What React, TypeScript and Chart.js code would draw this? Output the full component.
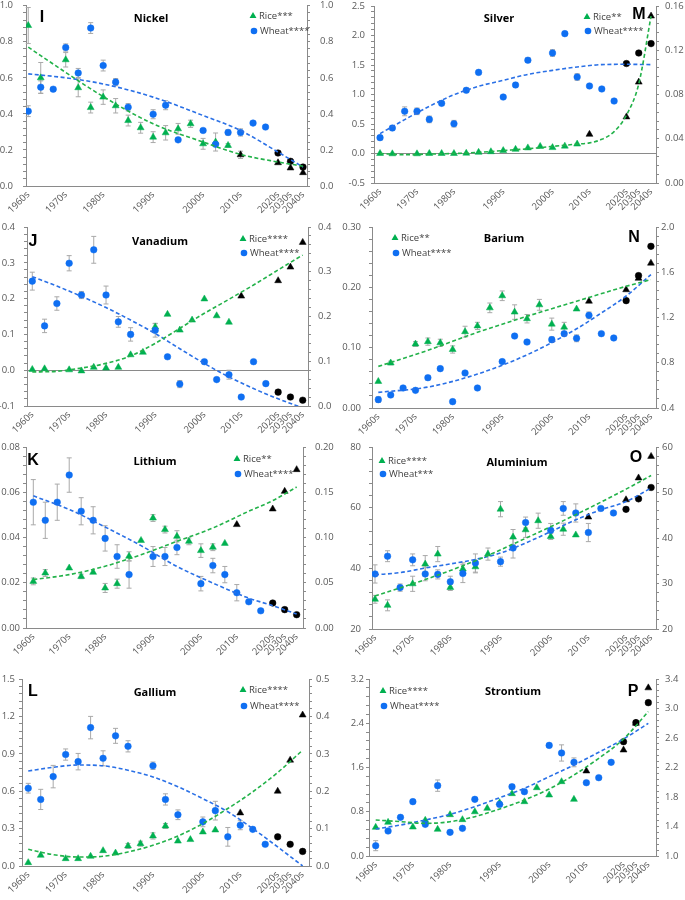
import React, { useEffect, useRef } from 'react';
import { Chart, registerables } from 'chart.js';

Chart.register(...registerables);

const FONT = '"Open Sans", "Noto Sans", sans-serif';
const GREEN = '#00b050';
const BLUE = '#0f6ff2';
const GREEN_LINE = '#23b24a';
const BLUE_LINE = '#2a70e6';
const BLACK = '#000000';
const AXIS = '#8a8a8a';
const TICK_TEXT = '#595959';
const ERR = '#a9a9a9';
const EXTRA = 10;

// ---------- shared x categories ----------
const xLabels = ['1960s', '', '', '1970s', '', '', '1980s', '', '', '', '1990s', '', '', '', '2000s', '', '', '2010s', '', '', '2020s', '2030s', '2040s'];
const labeledIdx = [0, 3, 6, 10, 14, 17, 20, 21, 22];
const riceProjected = [17, 20, 21, 22];
const wheatProjected = [20, 21, 22];

// ---------- Nickel ----------
const nickelRice = [0.89, 0.60, null, 0.70, 0.545, 0.435, 0.493, 0.445, 0.363, 0.323, 0.271, 0.295, 0.317, 0.345, 0.234, 0.244, 0.225, 0.173, null, null, 0.129, 0.100, 0.074];
const nickelRiceErr = [0.10, 0.085, 0, 0.04, 0.05, 0.03, 0.04, 0.04, 0.03, 0.03, 0.03, 0.04, 0.03, 0.02, 0.03, 0.05, 0.01, 0.02, 0, 0, 0, 0, 0];
const nickelWheat = [0.415, 0.548, 0.537, 0.768, 0.627, 0.876, 0.668, 0.576, 0.437, null, 0.398, 0.448, 0.256, null, 0.308, 0.231, 0.297, 0.297, 0.349, 0.327, 0.183, 0.137, 0.105];
const nickelWheatErr = [0.03, 0.035, 0.01, 0.02, 0.025, 0.03, 0.03, 0.02, 0.02, 0, 0.025, 0.025, 0, 0, 0.01, 0.01, 0.015, 0.02, 0, 0, 0, 0, 0];
const nickelRiceTrend = [[0, 0.77], [3, 0.63], [6, 0.496], [10, 0.345], [14, 0.244], [17, 0.175], [20, 0.133], [22, 0.11]];
const nickelWheatTrend = [[0, 0.622], [3, 0.60], [6, 0.566], [10, 0.493], [14, 0.391], [17, 0.308], [20, 0.188], [22, 0.105]];

// ---------- Silver ----------
const silverRice = [0.0, -0.005, null, -0.005, 0.0, 0.0, 0.0, 0.005, 0.02, 0.03, 0.05, 0.07, 0.095, 0.12, 0.10, 0.125, 0.16, 0.325, null, null, 0.62, 1.21, 2.33];
const silverRiceErr = [0, 0, 0, 0, 0, 0, 0, 0, 0, 0, 0, 0, 0, 0, 0, 0, 0, 0, 0, 0, 0, 0, 0];
const silverWheat = [0.041, 0.0497, 0.0648, 0.0648, 0.0575, 0.072, 0.0536, 0.0838, 0.100, null, 0.0777, 0.0886, 0.111, null, 0.1175, 0.135, 0.0958, 0.0877, 0.085, 0.0741, 0.108, 0.1175, 0.126];
const silverWheatErr = [0.002, 0.002, 0.004, 0.003, 0.003, 0.002, 0.003, 0.002, 0, 0, 0, 0.002, 0.002, 0, 0.003, 0, 0.003, 0, 0, 0, 0, 0, 0];
const silverRiceTrend = [[0, 0.0], [2, -0.02], [4, -0.01], [6, 0.0], [8, 0.02], [10, 0.05], [12, 0.08], [14, 0.12], [16, 0.16], [17, 0.18], [18, 0.24], [19, 0.37], [20, 0.65], [21, 1.18], [22, 2.33]];
const silverWheatTrend = [[0, 0.0446], [2, 0.0573], [4, 0.0693], [6, 0.0798], [8, 0.0874], [10, 0.0928], [12, 0.0982], [14, 0.1018], [16, 0.1049], [18, 0.107], [20, 0.1073], [22, 0.107]];

// ---------- Vanadium ----------
const vanadiumRice = [0.002, 0.004, null, 0.001, -0.002, 0.008, 0.006, 0.008, 0.043, 0.05, 0.121, 0.156, 0.112, 0.14, 0.199, 0.152, 0.134, 0.207, null, null, 0.25, 0.288, 0.357];
const vanadiumRiceErr = [0, 0, 0, 0, 0, 0, 0, 0, 0, 0, 0.01, 0, 0, 0, 0, 0, 0, 0, 0, 0, 0, 0, 0];
const vanadiumWheat = [0.279, 0.179, 0.229, 0.319, 0.248, 0.349, 0.248, 0.188, 0.16, null, 0.169, 0.11, 0.049, null, 0.099, 0.059, 0.07, 0.02, 0.099, 0.05, 0.031, 0.02, 0.013];
const vanadiumWheatErr = [0.02, 0.015, 0.015, 0.017, 0.008, 0.03, 0.02, 0.012, 0.015, 0, 0.015, 0, 0.008, 0, 0.005, 0, 0.01, 0, 0, 0, 0, 0, 0];
const vanadiumRiceTrend = [[0, -0.005], [2, -0.003], [4, 0.006], [6, 0.019], [8, 0.04], [10, 0.075], [12, 0.117], [14, 0.159], [16, 0.198], [18, 0.238], [20, 0.28], [22, 0.322]];
const vanadiumWheatTrend = [[0, 0.289], [2, 0.268], [4, 0.245], [6, 0.22], [8, 0.192], [10, 0.162], [12, 0.128], [14, 0.095], [16, 0.065], [18, 0.039], [20, 0.016], [22, -0.004]];

// ---------- Barium ----------
const bariumRice = [0.044, 0.0746, null, 0.106, 0.11, 0.108, 0.097, 0.1265, 0.136, 0.166, 0.186, 0.159, 0.148, 0.171, 0.139, 0.134, 0.164, 0.177, null, null, 0.196, 0.215, 0.24];
const bariumRiceErr = [0, 0.003, 0, 0.004, 0.006, 0.006, 0.006, 0.009, 0.006, 0.008, 0.008, 0.012, 0.007, 0.009, 0.01, 0.008, 0, 0, 0, 0, 0, 0, 0];
const bariumWheat = [0.474, 0.515, 0.577, 0.556, 0.668, 0.748, 0.456, 0.709, 0.577, null, 0.81, 1.036, 0.983, null, 1.004, 1.057, 1.016, 1.219, 1.057, 1.019, 1.349, 1.57, 1.829];
const bariumWheatErr = [0.025, 0, 0, 0, 0.02, 0, 0, 0, 0, 0, 0, 0, 0, 0, 0.025, 0.02, 0.03, 0.03, 0, 0, 0, 0, 0];
const bariumRiceTrend = [[0, 0.069], [4, 0.0956], [8, 0.1254], [12, 0.152], [16, 0.177], [20, 0.2017], [22, 0.2127]];
const bariumWheatTrend = [[0, 0.538], [4, 0.585], [8, 0.70], [12, 0.87], [16, 1.10], [18, 1.24], [20, 1.39], [22, 1.579]];

// ---------- Lithium ----------
const lithiumRice = [0.0206, 0.0243, null, 0.0265, 0.0228, 0.0246, 0.0177, 0.0196, 0.0317, 0.0387, 0.0486, 0.0435, 0.0405, 0.0383, 0.0342, 0.0357, 0.0374, 0.0457, null, null, 0.0526, 0.0604, 0.070];
const lithiumRiceErr = [0.0015, 0.0015, 0, 0, 0.001, 0, 0.002, 0.002, 0.002, 0, 0.0015, 0.0015, 0.0025, 0.0015, 0.003, 0.0015, 0, 0, 0, 0, 0, 0, 0];
const lithiumWheat = [0.139, 0.119, 0.139, 0.169, 0.129, 0.119, 0.099, 0.079, 0.059, null, 0.079, 0.079, 0.089, null, 0.049, 0.069, 0.059, 0.039, 0.029, 0.019, 0.0276, 0.0203, 0.0147];
const lithiumWheatErr = [0.025, 0.02, 0.02, 0.019, 0.015, 0.015, 0.014, 0.013, 0.015, 0, 0.011, 0.01, 0.008, 0, 0.008, 0.008, 0.009, 0.009, 0, 0, 0, 0, 0];
const lithiumRiceTrend = [[0, 0.0214], [3, 0.0236], [6, 0.0273], [9, 0.0324], [12, 0.0383], [15, 0.0442], [18, 0.0516], [20, 0.0563], [22, 0.0623]];
const lithiumWheatTrend = [[0, 0.146], [3, 0.131], [6, 0.1116], [9, 0.091], [12, 0.068], [15, 0.0497], [18, 0.033], [20, 0.0247], [22, 0.0155]];

// ---------- Aluminium ----------
const aluminiumRice = [29.8, 27.8, null, 34.9, 41.4, 44.7, 33.7, 39.8, 40.5, 44.7, 59.5, 50.3, 52.7, 55.7, 50.5, 52.9, 51.0, 56.9, null, null, 62.6, 69.8, 76.9];
const aluminiumRiceErr = [1.3, 1.8, 0, 2.5, 2.8, 2.5, 1, 2, 2, 2, 2.5, 2.5, 2.5, 2.5, 1, 2, 0, 0, 0, 0, 0, 0, 0];
const aluminiumWheat = [32.1, 36.0, 29.1, 35.2, 32.1, 32.0, 30.4, 32.2, 34.5, null, 34.8, 37.8, 43.4, null, 41.7, 46.5, 45.5, 41.2, 46.5, 45.5, 46.3, 48.6, 51.1];
const aluminiumWheatErr = [2, 1.2, 0.8, 1.3, 1.5, 1, 1.2, 2, 2, 0, 1, 2.2, 1.2, 0, 1.5, 1.5, 2, 2, 0, 0, 0, 0, 0];
const aluminiumRiceTrend = [[0, 30.9], [4, 36.3], [8, 42.5], [12, 49.9], [16, 57.7], [20, 66.1], [22, 70.6]];
const aluminiumWheatTrend = [[0, 31.9], [2, 32.4], [4, 33.4], [6, 34.3], [8, 35.3], [10, 36.7], [12, 38.9], [14, 41.4], [16, 44.0], [18, 46.2], [20, 48.0], [22, 51.0]];

// ---------- Gallium ----------
const galliumRice = [0.027, 0.086, null, 0.059, 0.059, 0.078, 0.123, 0.104, 0.161, 0.179, 0.241, 0.321, 0.20, 0.212, 0.273, 0.289, null, 0.426, null, null, 0.60, 0.849, 1.211];
const galliumRiceErr = [0, 0, 0, 0, 0, 0, 0, 0, 0.02, 0.02, 0.025, 0.02, 0, 0, 0, 0, 0, 0, 0, 0, 0, 0, 0];
const galliumWheat = [0.208, 0.178, 0.239, 0.298, 0.279, 0.37, 0.288, 0.348, 0.32, null, 0.268, 0.178, 0.137, null, 0.118, 0.148, 0.078, 0.109, 0.098, 0.058, 0.078, 0.058, 0.039];
const galliumWheatErr = [0.013, 0.027, 0.03, 0.015, 0.022, 0.03, 0.02, 0.02, 0.015, 0, 0.01, 0.015, 0.013, 0, 0.013, 0.025, 0.025, 0.012, 0, 0, 0, 0, 0];
const galliumRiceTrend = [[0, 0.134], [2, 0.091], [4, 0.072], [6, 0.078], [8, 0.1125], [10, 0.166], [12, 0.241], [14, 0.34], [16, 0.461], [18, 0.595], [20, 0.75], [22, 0.929]];
const galliumWheatTrend = [[0, 0.254], [2, 0.264], [4, 0.27], [6, 0.268], [8, 0.256], [10, 0.238], [12, 0.212], [14, 0.18], [16, 0.145], [18, 0.10], [20, 0.051], [22, 0.0]];

// ---------- Strontium ----------
const strontiumRice = [0.518, 0.609, null, 0.524, 0.645, 0.482, 0.747, 0.657, 0.80, 0.862, 0.964, 1.127, 0.982, 1.235, 1.103, 1.344, 1.024, 1.537, null, null, 1.916, 2.40, 3.04];
const strontiumRiceErr = [0, 0, 0, 0, 0, 0, 0, 0, 0, 0, 0, 0, 0, 0, 0, 0, 0, 0, 0, 0, 0, 0, 0];
const strontiumWheat = [1.14, 1.339, 1.524, 1.737, 1.429, 1.954, 1.321, 1.375, 1.768, null, 1.70, 1.94, 1.872, null, 2.50, 2.397, 2.27, 1.994, 2.062, 2.27, 2.55, 2.808, 3.079];
const strontiumWheatErr = [0.068, 0, 0, 0, 0, 0.077, 0, 0, 0, 0, 0, 0.03, 0, 0, 0, 0.11, 0.06, 0, 0, 0, 0, 0, 0];
const strontiumRiceTrend = [[0, 0.651], [2, 0.621], [4, 0.59], [6, 0.62], [8, 0.711], [10, 0.85], [12, 1.012], [14, 1.211], [16, 1.464], [18, 1.766], [20, 2.115], [22, 2.61]];
const strontiumWheatTrend = [[0, 1.366], [2, 1.42], [4, 1.488], [6, 1.565], [8, 1.669], [10, 1.791], [12, 1.918], [14, 2.076], [16, 2.234], [18, 2.406], [20, 2.586], [22, 2.799]];

type Axis = { min: number; max: number; major: number; minor: number; dec: number; pad: number };
type Panel = {
  name: string; letter: string; riceLabel: string; wheatLabel: string;
  ox: number; oy: number; w: number; h: number;
  plot: [number, number, number, number];
  xMin: number; xMax: number;
  yL: Axis; yR: Axis; zero: boolean;
  letterPos: [number, number]; titlePos: [number, number]; legendPos: [number, number, number];
  rice: (number | null)[]; riceErr: number[]; wheat: (number | null)[]; wheatErr: number[];
  riceTrend: number[][]; wheatTrend: number[][];
};

const panels: Panel[] = [
  {
    name: 'Nickel', letter: 'I', riceLabel: 'Rice***', wheatLabel: 'Wheat****',
    ox: 0, oy: 0, w: 340, h: 220, plot: [26, 5, 307, 186], xMin: -0.18, xMax: 22.32,
    yL: { min: 0, max: 1, major: 0.2, minor: 0.04, dec: 1, pad: 10 },
    yR: { min: 0, max: 1, major: 0.2, minor: 0.04, dec: 1, pad: 10 }, zero: false,
    letterPos: [42, 18], titlePos: [151, 19], legendPos: [253, 16, 15],
    rice: nickelRice, riceErr: nickelRiceErr, wheat: nickelWheat, wheatErr: nickelWheatErr,
    riceTrend: nickelRiceTrend, wheatTrend: nickelWheatTrend,
  },
  {
    name: 'Silver', letter: 'M', riceLabel: 'Rice**', wheatLabel: 'Wheat****',
    ox: 340, oy: 0, w: 345, h: 220, plot: [34, 6, 316, 183], xMin: -0.49, xMax: 22.4,
    yL: { min: -0.5, max: 2.5, major: 0.5, minor: 0.1, dec: 1, pad: 6 },
    yR: { min: 0, max: 0.16, major: 0.04, minor: 0.008, dec: 2, pad: 6 }, zero: true,
    letterPos: [299, 15], titlePos: [159, 19], legendPos: [247, 17, 14],
    rice: silverRice, riceErr: silverRiceErr, wheat: silverWheat, wheatErr: silverWheatErr,
    riceTrend: silverRiceTrend, wheatTrend: silverWheatTrend,
  },
  {
    name: 'Vanadium', letter: 'J', riceLabel: 'Rice****', wheatLabel: 'Wheat****',
    ox: 0, oy: 220, w: 340, h: 220, plot: [27, 7, 308, 186], xMin: -0.43, xMax: 22.43,
    yL: { min: -0.1, max: 0.4, major: 0.1, minor: 0.02, dec: 1, pad: 9 },
    yR: { min: 0, max: 0.4, major: 0.1, minor: 0.02, dec: 1, pad: 7 }, zero: true,
    letterPos: [33, 22], titlePos: [160, 22], legendPos: [243, 19, 14],
    rice: vanadiumRice, riceErr: vanadiumRiceErr, wheat: vanadiumWheat, wheatErr: vanadiumWheatErr,
    riceTrend: vanadiumRiceTrend, wheatTrend: vanadiumWheatTrend,
  },
  {
    name: 'Barium', letter: 'N', riceLabel: 'Rice**', wheatLabel: 'Wheat****',
    ox: 340, oy: 220, w: 345, h: 220, plot: [32, 7, 316, 188], xMin: -0.51, xMax: 22.41,
    yL: { min: 0, max: 0.3, major: 0.1, minor: 0.02, dec: 2, pad: 8 },
    yR: { min: 0.4, max: 2.0, major: 0.4, minor: 0.08, dec: 1, pad: 2 }, zero: false,
    letterPos: [294, 18], titlePos: [164, 19], legendPos: [55, 18, 15],
    rice: bariumRice, riceErr: bariumRiceErr, wheat: bariumWheat, wheatErr: bariumWheatErr,
    riceTrend: bariumRiceTrend, wheatTrend: bariumWheatTrend,
  },
  {
    name: 'Lithium', letter: 'K', riceLabel: 'Rice**', wheatLabel: 'Wheat****',
    ox: 0, oy: 440, w: 340, h: 225, plot: [26, 7, 303, 188], xMin: -0.61, xMax: 22.53,
    yL: { min: 0, max: 0.08, major: 0.02, minor: 0.004, dec: 2, pad: 3 },
    yR: { min: 0, max: 0.2, major: 0.05, minor: 0.01, dec: 2, pad: 9 }, zero: false,
    letterPos: [33, 21], titlePos: [155, 22], legendPos: [237, 19, 15],
    rice: lithiumRice, riceErr: lithiumRiceErr, wheat: lithiumWheat, wheatErr: lithiumWheatErr,
    riceTrend: lithiumRiceTrend, wheatTrend: lithiumWheatTrend,
  },
  {
    name: 'Aluminium', letter: 'O', riceLabel: 'Rice****', wheatLabel: 'Wheat***',
    ox: 340, oy: 440, w: 345, h: 225, plot: [32, 7, 316, 189], xMin: -0.24, xMax: 22.39,
    yL: { min: 20, max: 80, major: 20, minor: 4, dec: 0, pad: 8 },
    yR: { min: 20, max: 60, major: 10, minor: 2, dec: 0, pad: 3 }, zero: false,
    letterPos: [296, 18], titlePos: [177, 23], legendPos: [42, 21, 13],
    rice: aluminiumRice, riceErr: aluminiumRiceErr, wheat: aluminiumWheat, wheatErr: aluminiumWheatErr,
    riceTrend: aluminiumRiceTrend, wheatTrend: aluminiumWheatTrend,
  },
  {
    name: 'Gallium', letter: 'L', riceLabel: 'Rice****', wheatLabel: 'Wheat****',
    ox: 0, oy: 665, w: 340, h: 235, plot: [22, 14, 309, 201], xMin: -0.5, xMax: 22.51,
    yL: { min: 0, max: 1.5, major: 0.3, minor: 0.06, dec: 1, pad: 4 },
    yR: { min: 0, max: 0.5, major: 0.1, minor: 0.02, dec: 1, pad: 4 }, zero: false,
    letterPos: [33, 27], titlePos: [155, 28], legendPos: [243, 25, 16],
    rice: galliumRice, riceErr: galliumRiceErr, wheat: galliumWheat, wheatErr: galliumWheatErr,
    riceTrend: galliumRiceTrend, wheatTrend: galliumWheatTrend,
  },
  {
    name: 'Strontium', letter: 'P', riceLabel: 'Rice****', wheatLabel: 'Wheat****',
    ox: 340, oy: 665, w: 345, h: 235, plot: [29, 14, 316, 191], xMin: -0.54, xMax: 22.62,
    yL: { min: 0, max: 3.2, major: 0.8, minor: 0.16, dec: 1, pad: 2 },
    yR: { min: 1.0, max: 3.4, major: 0.4, minor: 0.08, dec: 1, pad: 6 }, zero: false,
    letterPos: [293, 27], titlePos: [173, 27], legendPos: [43, 26, 15],
    rice: strontiumRice, riceErr: strontiumRiceErr, wheat: strontiumWheat, wheatErr: strontiumWheatErr,
    riceTrend: strontiumRiceTrend, wheatTrend: strontiumWheatTrend,
  },
];

function makeTicks(a: Axis) {
  const n = Math.round((a.max - a.min) / a.minor);
  const out: { value: number }[] = [];
  for (let k = 0; k <= n; k++) out.push({ value: +(a.min + k * a.minor).toFixed(6) });
  return out;
}
function isMajor(a: Axis, v: number) {
  const q = (v - a.min) / a.major;
  return Math.abs(q - Math.round(q)) < 1e-6;
}

function drawTriangle(ctx: CanvasRenderingContext2D, x: number, y: number, r: number) {
  ctx.beginPath();
  ctx.moveTo(x, y - r);
  ctx.lineTo(x + r * 0.866, y + r * 0.5);
  ctx.lineTo(x - r * 0.866, y + r * 0.5);
  ctx.closePath();
  ctx.fill();
}

function PanelChart({ p }: { p: Panel }) {
  const ref = useRef<HTMLCanvasElement>(null);
  useEffect(() => {
    const canvas = ref.current;
    if (!canvas) return;
    const CH = p.h + EXTRA;
    const [L, T, R, B] = p.plot;

    const yAxis = (a: Axis, pos: 'left' | 'right', width: number, zero: boolean) => ({
      type: 'linear', position: pos, min: a.min, max: a.max,
      afterBuildTicks: (s: any) => { s.ticks = makeTicks(a); },
      afterFit: (s: any) => { s.width = width; },
      ticks: {
        autoSkip: false, padding: a.pad, color: TICK_TEXT,
        font: { family: FONT, size: 9.5 },
        callback: (v: any) => (isMajor(a, Number(v)) ? Number(v).toFixed(a.dec) : ''),
      },
      grid: {
        display: true, drawOnChartArea: zero, drawTicks: true, tickLength: 3, tickColor: AXIS,
        color: (c: any) => (zero && c.tick && Math.abs(c.tick.value) < 1e-9 ? AXIS : 'rgba(0,0,0,0)'),
      },
      border: { display: true, color: AXIS, width: 1 },
    });

    const errPlugin = {
      id: 'errbars',
      beforeDatasetsDraw(chart: any) {
        const ctx = chart.ctx;
        const xs = chart.scales.x;
        const draw = (vals: (number | null)[], errs: number[], ys: any) => {
          vals.forEach((v, i) => {
            const e = errs[i];
            if (v == null || !e) return;
            const x = xs.getPixelForValue(i);
            const yTop = ys.getPixelForValue(v + e);
            const yBot = ys.getPixelForValue(v - e);
            ctx.save();
            ctx.strokeStyle = ERR;
            ctx.lineWidth = 1;
            ctx.beginPath();
            ctx.moveTo(x, yTop); ctx.lineTo(x, yBot);
            ctx.moveTo(x - 2.5, yTop); ctx.lineTo(x + 2.5, yTop);
            ctx.moveTo(x - 2.5, yBot); ctx.lineTo(x + 2.5, yBot);
            ctx.stroke();
            ctx.restore();
          });
        };
        draw(p.rice, p.riceErr, chart.scales.y);
        draw(p.wheat, p.wheatErr, chart.scales.y1);
      },
    };

    const annotPlugin = {
      id: 'annot',
      afterDraw(chart: any) {
        const ctx = chart.ctx as CanvasRenderingContext2D;
        ctx.save();
        ctx.fillStyle = '#000';
        ctx.textAlign = 'center';
        ctx.textBaseline = 'middle';
        ctx.font = 'bold 16px "Liberation Sans", Arial, sans-serif';
        ctx.fillText(p.letter, p.letterPos[0], p.letterPos[1] + EXTRA);
        ctx.font = `bold 11px ${FONT}`;
        ctx.fillText(p.name, p.titlePos[0], p.titlePos[1] + EXTRA);
        const [mx, ly, gap] = p.legendPos;
        ctx.fillStyle = GREEN;
        drawTriangle(ctx, mx, ly + EXTRA, 4);
        ctx.fillStyle = BLUE;
        ctx.beginPath();
        ctx.arc(mx + 1, ly + gap + EXTRA, 3.3, 0, Math.PI * 2);
        ctx.fill();
        ctx.fillStyle = '#404040';
        ctx.textAlign = 'left';
        ctx.font = `9.5px ${FONT}`;
        ctx.fillText(p.riceLabel, mx + 6, ly + EXTRA);
        ctx.fillText(p.wheatLabel, mx + 7, ly + gap + EXTRA);
        ctx.restore();
      },
    };

    const pts = (arr: (number | null)[]) => arr.map((v, i) => ({ x: i, y: v }));

    const chart = new Chart(canvas, {
      type: 'scatter',
      data: {
        datasets: [
          {
            type: 'line', label: 'Rice trend', data: p.riceTrend.map(([x, y]) => ({ x, y })), yAxisID: 'y',
            borderColor: GREEN_LINE, borderWidth: 1.6, borderDash: [4, 2.5], pointRadius: 0,
            cubicInterpolationMode: 'monotone', fill: false, order: 0,
          } as any,
          {
            type: 'line', label: 'Wheat trend', data: p.wheatTrend.map(([x, y]) => ({ x, y })), yAxisID: 'y1',
            borderColor: BLUE_LINE, borderWidth: 1.6, borderDash: [4, 2.5], pointRadius: 0,
            cubicInterpolationMode: 'monotone', fill: false, order: 0,
          } as any,
          {
            type: 'scatter', label: 'Wheat', data: pts(p.wheat), yAxisID: 'y1', pointStyle: 'circle', pointRadius: 3.3,
            pointBackgroundColor: p.wheat.map((_, i) => (wheatProjected.includes(i) ? BLACK : BLUE)),
            pointBorderColor: p.wheat.map((_, i) => (wheatProjected.includes(i) ? BLACK : BLUE)),
            pointBorderWidth: 0.5, order: 1,
          } as any,
          {
            type: 'scatter', label: 'Rice', data: pts(p.rice), yAxisID: 'y', pointStyle: 'triangle', pointRadius: 4,
            pointBackgroundColor: p.rice.map((_, i) => (riceProjected.includes(i) ? BLACK : GREEN)),
            pointBorderColor: p.rice.map((_, i) => (riceProjected.includes(i) ? BLACK : GREEN)),
            pointBorderWidth: 0.5, order: 2,
          } as any,
        ],
      },
      options: {
        animation: false,
        responsive: false,
        maintainAspectRatio: false,
        layout: { padding: { top: T + EXTRA, left: 0, right: 0, bottom: 0 } },
        plugins: { legend: { display: false }, tooltip: { enabled: false } },
        scales: {
          x: {
            type: 'linear', position: 'bottom', min: p.xMin, max: p.xMax,
            afterBuildTicks: (s: any) => { s.ticks = labeledIdx.map((v) => ({ value: v })); },
            afterFit: (s: any) => { s.height = CH - (B + EXTRA); },
            ticks: {
              autoSkip: false, minRotation: 45, maxRotation: 45, padding: 3, color: TICK_TEXT,
              font: { family: FONT, size: 9.5 },
              callback: (v: any) => xLabels[Math.round(Number(v))] ?? '',
            },
            grid: { display: false, drawTicks: false },
            border: { display: true, color: AXIS, width: 1 },
          } as any,
          y: yAxis(p.yL, 'left', L, p.zero) as any,
          y1: yAxis(p.yR, 'right', p.w - R, false) as any,
        },
      },
      plugins: [errPlugin, annotPlugin],
    });
    return () => chart.destroy();
  }, [p]);

  return (
    <canvas
      ref={ref}
      width={p.w}
      height={p.h + EXTRA}
      style={{ position: 'absolute', left: p.ox, top: p.oy - EXTRA, width: p.w, height: p.h + EXTRA }}
    />
  );
}

export default function App() {
  return (
    <div style={{ position: 'fixed', left: 0, top: 0, width: 685, height: 900, background: '#ffffff', overflow: 'hidden' }}>
      {panels.map((p) => (
        <PanelChart key={p.name} p={p} />
      ))}
    </div>
  );
}
